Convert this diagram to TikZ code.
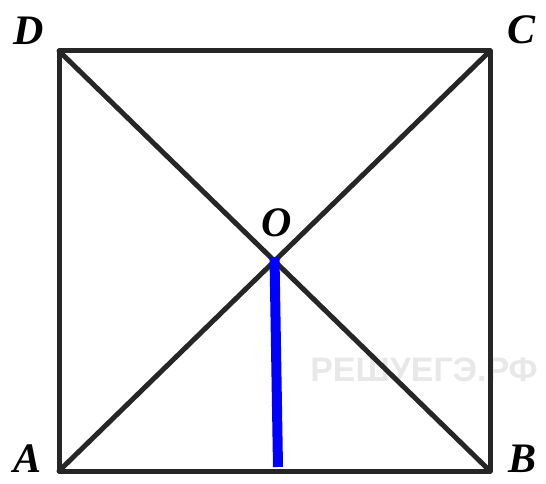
\documentclass[tikz,border=0pt]{standalone}
\usepackage{fontspec}
\setmainfont{Liberation Serif}
\newfontfamily\markfont{Liberation Sans}
\usetikzlibrary{positioning}

\begin{document}
\begin{tikzpicture}[x=1pt, y=-1pt,
    side/.style={line width=5pt, line cap=round, line join=round, black!85},
    height/.style={line width=10pt, blue},
    vlabel/.style={font=\fontsize{42}{42}\selectfont\bfseries\itshape, inner sep=0pt},
    watermark/.style={font=\markfont\fontsize{34}{34}\selectfont\bfseries, text=black!9, inner sep=0pt}
  ]
    \useasboundingbox (0,0) rectangle (546,484);

    % watermark behind the figure
    \node[watermark] (mark) at (424,370) {РЕШУЕГЭ.РФ};

    % vertices
    \coordinate (A) at (59,471);
    \coordinate (B) at (490,471);
    \coordinate (C) at (490,51);
    \coordinate (D) at (59,51);
    \coordinate (O) at (274.5,261);
    \coordinate (H) at (278,467);

    \draw[side] (A) -- (B) -- (C) -- (D) -- cycle;
    \draw[side] (A) -- (C);
    \draw[side] (B) -- (D);

    \draw[height] (O) ++(0,-4) -- (H);

    \node[vlabel] (labA) at (28,459) {A};
    \node[vlabel] (labB) at (522,459) {B};
    \node[vlabel] (labC) at (521,30) {C};
    \node[vlabel] (labD) at (29,31) {D};
    \node[vlabel] (labO) at (277,223) {O};
  \end{tikzpicture}
\end{document}
